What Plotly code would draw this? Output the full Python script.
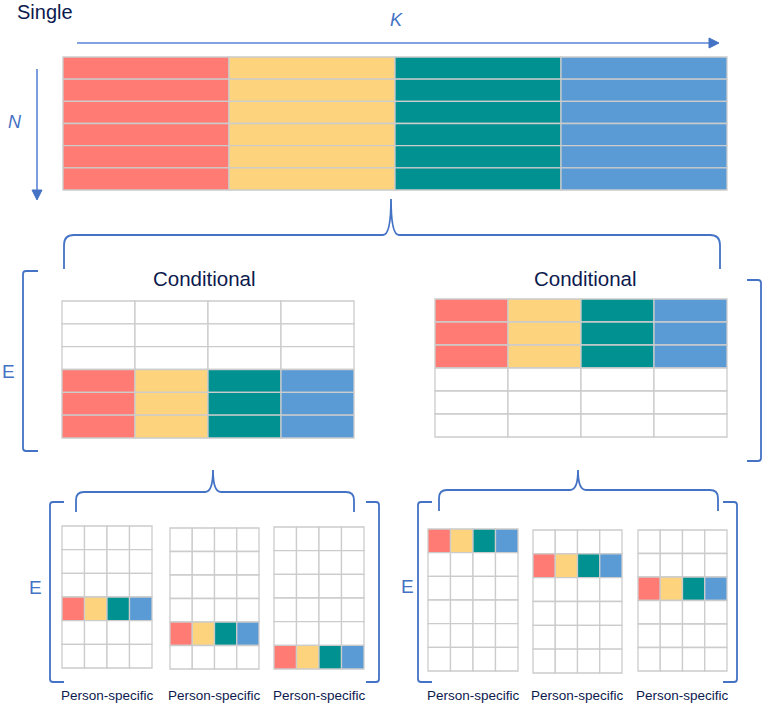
import plotly.graph_objects as go

# ---------------- data ----------------
factor_colors = ["#FF7B74", "#FDD47D", "#009190", "#5B9BD5"]   # one colour per K column
n_cols = 4
n_rows = 6
single_filled = [0, 1, 2, 3, 4, 5]
cond_left_filled = [3, 4, 5]
cond_right_filled = [0, 1, 2]
person_left_filled = [3, 4, 5]      # one row per person-specific matrix
person_right_filled = [0, 1, 2]
title_single = "Single"
title_cond = "Conditional"
label_person = "Person-specific"
axis_k = "K"
axis_n = "N"
axis_e = "E"

# ---------------- layout geometry (pixels) ----------------
W, H = 765, 706
BLUE = "#4472C4"
NAVY = "#0D1A4E"
GRID = "#CCCCCC"
FONT = "Liberation Sans, Arial, sans-serif"

top_box = (63, 727, 57, 190)
cond_boxes = [(62, 354, 301, 438), (435, 727, 299, 437)]
person_left_boxes = [(62, 152, 526, 668), (170, 259, 528, 669), (274, 364, 527, 669)]
person_right_boxes = [(428, 518, 529, 671), (533, 622, 530, 673), (638, 727, 530, 671)]

shapes = []
annotations = []


def grid(box, filled):
    x0, x1, y0, y1 = box
    cw = (x1 - x0) / n_cols
    rh = (y1 - y0) / n_rows
    for r in range(n_rows):
        for c in range(n_cols):
            fill = factor_colors[c] if r in filled else "white"
            shapes.append(dict(type="rect", xref="x", yref="y",
                               x0=x0 + c * cw, x1=x0 + (c + 1) * cw,
                               y0=y0 + r * rh, y1=y0 + (r + 1) * rh,
                               fillcolor=fill, line=dict(color=GRID, width=1.3),
                               layer="above"))


grid(top_box, single_filled)
grid(cond_boxes[0], cond_left_filled)
grid(cond_boxes[1], cond_right_filled)
for b, r in zip(person_left_boxes, person_left_filled):
    grid(b, [r])
for b, r in zip(person_right_boxes, person_right_filled):
    grid(b, [r])


def path(d, width=1.8):
    shapes.append(dict(type="path", xref="x", yref="y", path=d,
                       line=dict(color=BLUE, width=width), layer="above"))


def brace(xl, xr, xt, yh, yt, yend, r=10):
    d = (f"M {xl},{yend} L {xl},{yh + r} Q {xl},{yh} {xl + r},{yh} "
         f"L {xt - 8},{yh} Q {xt},{yh} {xt},{yt} Q {xt},{yh} {xt + 8},{yh} "
         f"L {xr - r},{yh} Q {xr},{yh} {xr},{yh + r} L {xr},{yend}")
    path(d)


def bracket_left(x0, x1, y0, y1, r=3):
    path(f"M {x1},{y0} L {x0 + r},{y0} Q {x0},{y0} {x0},{y0 + r} "
         f"L {x0},{y1 - r} Q {x0},{y1} {x0 + r},{y1} L {x1},{y1}")


def bracket_right(x0, x1, y0, y1, r=3):
    path(f"M {x0},{y0} L {x1 - r},{y0} Q {x1},{y0} {x1},{y0 + r} "
         f"L {x1},{y1 - r} Q {x1},{y1} {x1 - r},{y1} L {x0},{y1}")


# braces
brace(64, 720, 391, 235, 199, 269)
brace(76, 354, 213, 492, 470, 512, r=8)
brace(439, 718, 578, 490, 470, 511, r=8)

# brackets
bracket_left(23, 38, 271, 451)
bracket_right(747, 761, 280, 461)
bracket_left(50, 64, 502, 682)
bracket_right(366, 379, 502, 682)
bracket_left(418, 432, 502, 682)
bracket_right(723, 737, 502, 682)

# arrows
shapes.append(dict(type="line", xref="x", yref="y", x0=77, y0=43, x1=712, y1=43,
                   line=dict(color="#5A85D6", width=1.6)))
shapes.append(dict(type="path", xref="x", yref="y", path="M 709,38 L 719,43 L 709,48 Z",
                   fillcolor=BLUE, line=dict(color=BLUE, width=1)))
shapes.append(dict(type="line", xref="x", yref="y", x0=37, y0=69, x1=37, y1=192,
                   line=dict(color="#5A85D6", width=1.6)))
shapes.append(dict(type="path", xref="x", yref="y", path="M 32,190 L 37,200 L 42,190 Z",
                   fillcolor=BLUE, line=dict(color=BLUE, width=1)))


def text(x, y, s, size, color, italic=False, xanchor="center"):
    annotations.append(dict(x=x, y=y, xref="x", yref="y", text=s, showarrow=False,
                            xanchor=xanchor, yanchor="middle",
                            font=dict(family=FONT, size=size, color=color,
                                      style="italic" if italic else "normal")))


text(15, 12, title_single, 20, NAVY, xanchor="left")
text(396, 20, axis_k, 18, BLUE, italic=True)
text(15, 122, axis_n, 18, BLUE, italic=True)
text(204, 278, title_cond, 20.5, NAVY)
text(585, 278, title_cond, 20.5, NAVY)
text(8, 371, axis_e, 19, BLUE)
text(35, 587, axis_e, 19, BLUE)
text(407, 586, axis_e, 19, BLUE)
for b in person_left_boxes + person_right_boxes:
    text((b[0] + b[1]) / 2, 695, label_person, 13.5, NAVY)

fig = go.Figure()
fig.add_trace(go.Scatter(x=[0, W], y=[0, H], mode="markers",
                         marker=dict(opacity=0), hoverinfo="skip", showlegend=False))
fig.update_layout(
    width=W, height=H, margin=dict(l=0, r=0, t=0, b=0),
    paper_bgcolor="white", plot_bgcolor="white",
    xaxis=dict(range=[0, W], visible=False, fixedrange=True),
    yaxis=dict(range=[H, 0], visible=False, fixedrange=True),
    shapes=shapes, annotations=annotations, showlegend=False,
)
fig.write_html(
    "out.html",
    config={"displayModeBar": False},
    post_script="document.body.style.margin='0';document.body.style.overflow='hidden';",
)
